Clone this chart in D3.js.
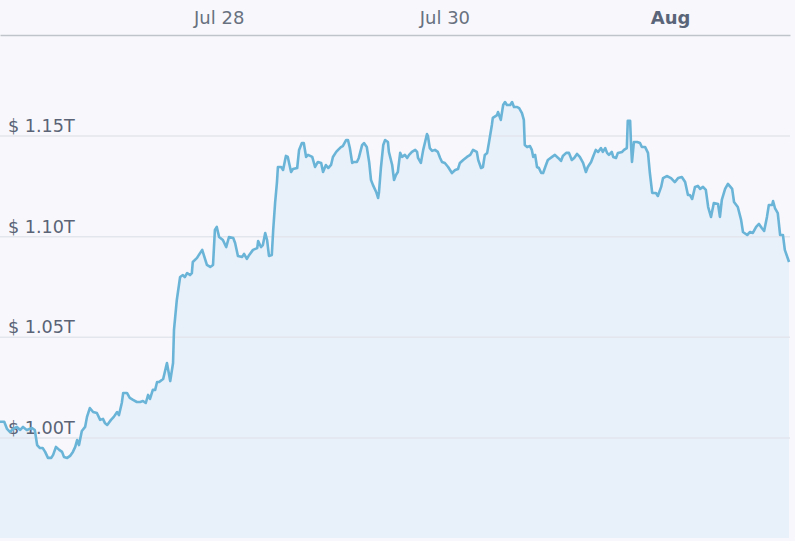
<!DOCTYPE html>
<html>
<head>
<meta charset="utf-8">
<script src="https://cdn.jsdelivr.net/npm/d3@7"></script>
<style>
  html, body { margin: 0; padding: 0; background: #f8f8fc; }
  svg { display: block; }
</style>
</head>
<body>
<svg id="chart" width="795" height="541"></svg>
<script>
// Hours elapsed since the first sample (Jul 26, 01:30 UTC)
const hoursFromStart = [
  0, 0.9, 1.5, 2.1, 2.8, 3.6, 4.3, 4.9, 5.7, 6.8, 7.4, 7.9, 8.5, 9.1, 9.6, 10.2, 10.9, 11.3, 11.9, 12.6,
  13.2, 13.6, 14.3, 14.9, 15.5, 16.0, 16.4, 16.8, 17.4, 18.1, 18.5, 19.1, 19.8, 20.6, 21.3, 21.9, 22.3, 22.8, 23.6, 24.2,
  24.9, 25.3, 25.9, 26.2, 27.0, 27.6, 28.3, 29.1, 29.8, 30.4, 31.0, 31.5, 31.9, 32.5, 33.0, 33.4, 33.8, 34.7, 35.5, 36.2,
  36.8, 37.0, 37.6, 38.3, 38.9, 39.3, 39.8, 40.4, 40.8, 41.0, 41.9, 42.3, 43.0, 43.2, 44.0, 44.7, 45.3, 45.7, 46.1, 46.6,
  47.4, 48.1, 48.7, 49.6, 50.0, 50.6, 51.5, 51.9, 52.5, 53.0, 53.8, 54.7, 54.9, 55.5, 55.9, 56.4, 56.8, 57.2, 57.8, 58.1,
  58.5, 58.9, 59.1, 59.8, 60.2, 60.8, 61.2, 61.9, 62.3, 63.2, 63.6, 64.2, 64.6, 65.1, 65.5, 66.4, 67.0, 67.6, 68.3, 68.7,
  69.3, 69.8, 70.4, 70.8, 71.5, 71.9, 72.5, 72.9, 73.6, 74.0, 74.4, 74.9, 75.3, 75.9, 76.3, 77.0, 77.4, 78.0, 78.5, 78.9,
  79.3, 80.0, 80.4, 80.6, 81.0, 81.5, 81.9, 82.5, 82.7, 83.4, 83.8, 84.2, 84.6, 85.1, 85.5, 86.1, 86.6, 87.0, 87.6, 88.3,
  88.7, 88.9, 89.5, 90.0, 90.4, 90.8, 91.0, 91.4, 91.9, 92.5, 93.1, 93.6, 94.0, 94.6, 95.3, 95.7, 96.1, 96.8, 97.4, 97.8,
  98.5, 99.3, 100.0, 100.6, 101.4, 101.7, 102.3, 102.7, 103.1, 103.6, 104.0, 104.6, 104.8, 105.7, 105.9, 106.5, 107.0, 107.4, 107.8, 108.5,
  108.9, 109.3, 110.0, 110.4, 111.0, 111.4, 111.6, 112.1, 112.7, 113.1, 113.4, 113.8, 114.2, 114.6, 115.1, 115.5, 116.1, 116.5, 117.4, 118.0,
  118.7, 119.3, 119.7, 120.4, 121.0, 121.6, 122.1, 122.7, 123.3, 124.0, 124.6, 125.0, 125.7, 126.1, 126.7, 127.2, 127.8, 128.2, 128.7, 129.1,
  129.5, 130.1, 130.4, 131.0, 131.4, 132.3, 132.7, 133.3, 133.5, 134.0, 134.2, 134.4, 134.8, 135.5, 136.1, 136.5, 137.2, 137.8, 138.2, 138.7,
  139.5, 139.9, 140.6, 141.0, 141.8, 142.7, 143.5, 144.2, 145.0, 145.7, 146.3, 146.7, 147.2, 147.8, 148.4, 148.9, 149.5, 150.1, 150.6, 151.2,
  151.8, 152.7, 153.1, 153.5, 154.2, 154.8, 155.7, 156.1, 156.9, 157.6, 158.0, 158.9, 159.5, 160.1, 160.8, 161.4, 162.0, 162.5, 163.1, 163.5,
  164.2, 164.4, 164.8, 165.4, 165.9, 166.5, 166.9, 167.8
];

// Market cap, trillions of USD
const marketCapT = [
  1.0078, 1.0078, 1.0042, 1.0027, 1.0042, 1.0052, 1.0037, 1.0052, 1.0037, 1.0047, 1.0037, 0.9962, 0.9947, 0.9947, 0.9928, 0.9898, 0.9898, 0.9913, 0.9953, 0.9938,
  0.9928, 0.9903, 0.9898, 0.9908, 0.9928, 0.9953, 0.9987, 0.9962, 1.0032, 1.0052, 1.0102, 1.0146, 1.0126, 1.0121, 1.0087, 1.0092, 1.0072, 1.0062, 1.0087, 1.0102,
  1.0126, 1.0111, 1.0171, 1.0221, 1.0221, 1.0196, 1.0186, 1.0176, 1.0176, 1.0181, 1.0171, 1.0211, 1.0191, 1.0236, 1.0236, 1.0275, 1.0275, 1.0290, 1.0370, 1.0280,
  1.0370, 1.0534, 1.0683, 1.0797, 1.0807, 1.0797, 1.0817, 1.0807, 1.0817, 1.0872, 1.0892, 1.0907, 1.0932, 1.0917, 1.0857, 1.0847, 1.0857, 1.1031, 1.1046, 1.0996,
  1.0981, 1.0946, 1.0996, 1.0991, 1.0966, 1.0902, 1.0897, 1.0912, 1.0887, 1.0907, 1.0932, 1.0941, 1.0976, 1.0946, 1.0956, 1.1016, 1.0981, 1.0902, 1.0907, 1.1031,
  1.1165, 1.1269, 1.1344, 1.1344, 1.1329, 1.1399, 1.1394, 1.1319, 1.1334, 1.1339, 1.1429, 1.1463, 1.1463, 1.1394, 1.1404, 1.1394, 1.1344, 1.1369, 1.1364, 1.1319,
  1.1354, 1.1339, 1.1354, 1.1394, 1.1419, 1.1429, 1.1443, 1.1448, 1.1478, 1.1478, 1.1438, 1.1364, 1.1369, 1.1369, 1.1389, 1.1453, 1.1463, 1.1443, 1.1369, 1.1279,
  1.1255, 1.1220, 1.1190, 1.1220, 1.1339, 1.1453, 1.1478, 1.1468, 1.1419, 1.1354, 1.1279, 1.1304, 1.1319, 1.1414, 1.1394, 1.1404, 1.1389, 1.1404, 1.1419, 1.1429,
  1.1419, 1.1389, 1.1364, 1.1429, 1.1468, 1.1508, 1.1498, 1.1438, 1.1424, 1.1429, 1.1419, 1.1389, 1.1369, 1.1364, 1.1344, 1.1329, 1.1314, 1.1329, 1.1334, 1.1364,
  1.1379, 1.1394, 1.1404, 1.1429, 1.1419, 1.1379, 1.1339, 1.1344, 1.1404, 1.1414, 1.1468, 1.1553, 1.1588, 1.1602, 1.1617, 1.1578, 1.1652, 1.1667, 1.1652, 1.1652,
  1.1667, 1.1642, 1.1642, 1.1637, 1.1612, 1.1578, 1.1453, 1.1443, 1.1448, 1.1429, 1.1394, 1.1404, 1.1344, 1.1339, 1.1314, 1.1314, 1.1354, 1.1379, 1.1394, 1.1404,
  1.1389, 1.1374, 1.1399, 1.1414, 1.1414, 1.1379, 1.1389, 1.1409, 1.1394, 1.1364, 1.1319, 1.1344, 1.1369, 1.1394, 1.1429, 1.1419, 1.1438, 1.1419, 1.1438, 1.1414,
  1.1404, 1.1419, 1.1394, 1.1389, 1.1414, 1.1419, 1.1429, 1.1438, 1.1573, 1.1573, 1.1453, 1.1369, 1.1468, 1.1468, 1.1463, 1.1443, 1.1443, 1.1414, 1.1314, 1.1215,
  1.1215, 1.1200, 1.1245, 1.1289, 1.1299, 1.1289, 1.1269, 1.1289, 1.1294, 1.1269, 1.1205, 1.1205, 1.1185, 1.1245, 1.1250, 1.1235, 1.1245, 1.1230, 1.1145, 1.1096,
  1.1165, 1.1160, 1.1096, 1.1180, 1.1235, 1.1260, 1.1235, 1.1170, 1.1145, 1.1081, 1.1021, 1.1006, 1.1021, 1.1016, 1.1046, 1.1061, 1.1041, 1.1026, 1.1096, 1.1155,
  1.1155, 1.1175, 1.1140, 1.1115, 1.1006, 1.1006, 1.0932, 1.0872
];

const yTickValues = [1.00, 1.05, 1.10, 1.15];
const xTickDates = ["2023-07-28", "2023-07-30", "2023-08-01"];

const startMs = Date.UTC(2023, 6, 26, 1, 30);
const data = hoursFromStart.map((h, i) => ({ t: new Date(startMs + h * 3600e3), v: marketCapT[i] }));

const W = 790, TOP = 35, BOTTOM = 538;
const svg = d3.select("#chart");

const x = d3.scaleUtc()
  .domain([new Date(startMs), new Date(startMs + 168 * 3600e3)])
  .range([0, W]);
const y = d3.scaleLinear().domain([0.95, 1.2]).range([BOTTOM, TOP]);

// Area fill
svg.append("path")
  .datum(data)
  .attr("fill", "#e3eef9")
  .attr("fill-opacity", 0.8)
  .attr("d", d3.area().x(d => x(d.t)).y0(BOTTOM).y1(d => y(d.v)));

// Y gridlines + labels
const yAxis = svg.append("g")
  .call(d3.axisRight(y).tickValues(yTickValues).tickSize(W)
    .tickFormat(d => "$\u00a0" + d.toFixed(2) + "T"));
yAxis.select(".domain").remove();
yAxis.selectAll(".tick line").attr("stroke", "#e3e6ec").attr("stroke-width", 1.5);
yAxis.selectAll(".tick text")
  .attr("x", 8).attr("dy", -4).attr("text-anchor", "start")
  .attr("fill", "#5a6476")
  .style("font-family", "'DejaVu Sans', Verdana, sans-serif")
  .style("font-size", "17.6px");

// Line
svg.append("path")
  .datum(data)
  .attr("fill", "none")
  .attr("stroke", "#6ab4d8")
  .attr("stroke-width", 2.6)
  .attr("stroke-linejoin", "round")
  .attr("d", d3.line().x(d => x(d.t)).y(d => y(d.v)));

// Top time axis
const parseDay = d3.utcParse("%Y-%m-%d");
const xAxis = svg.append("g")
  .attr("transform", `translate(0,${TOP})`)
  .call(d3.axisTop(x).tickValues(xTickDates.map(parseDay)).tickSize(0).tickSizeOuter(0).tickPadding(11)
    .tickFormat(d => d.getUTCDate() === 1 ? d3.utcFormat("%b")(d) : d3.utcFormat("%b %d")(d)));
xAxis.select(".domain").attr("stroke", "#bfc3ca").attr("stroke-width", 1.5);
xAxis.selectAll(".tick text")
  .attr("fill", d => d.getUTCDate() === 1 ? "#5b6579" : "#68717f")
  .style("font-weight", d => d.getUTCDate() === 1 ? "bold" : "normal")
  .style("font-family", "'DejaVu Sans', sans-serif")
  .style("font-size", "18px");
</script>
</body>
</html>
